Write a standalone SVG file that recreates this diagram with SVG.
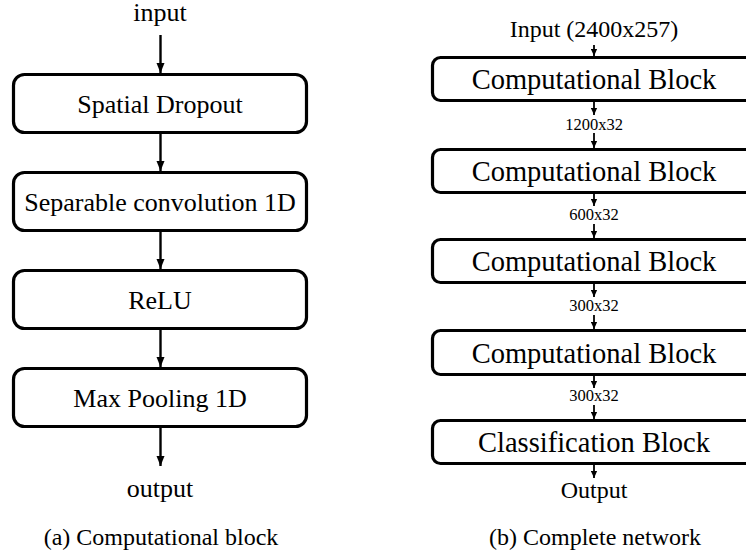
<svg xmlns="http://www.w3.org/2000/svg" width="746" height="559" viewBox="0 0 746 559">
<defs>
<style>
.box{fill:#fff;stroke:#000;stroke-width:3.2}
.t{font-family:"Liberation Serif","Times New Roman",serif;fill:#000;text-anchor:middle}
.l{font-size:26px}
.r{font-size:28.5px}
.s{font-size:16.5px}
.m{font-size:24px}
.a{stroke:#000;stroke-width:2.4;fill:none}
.as{stroke:#000;stroke-width:1.8;fill:none}
</style>
<marker id="ah" markerUnits="userSpaceOnUse" markerWidth="10" markerHeight="10" viewBox="0 0 10 10" refX="10" refY="5" orient="auto">
<path d="M0,1 L10,5 L0,9 z" fill="#000"/>
</marker>
<marker id="ahs" markerUnits="userSpaceOnUse" markerWidth="7" markerHeight="7" viewBox="0 0 10 10" refX="10" refY="5" orient="auto">
<path d="M0,0.5 L10,5 L0,9.5 z" fill="#000"/>
</marker>
</defs>
<rect width="746" height="559" fill="#fff"/>

<g id="connectors">
<line class="a" x1="160.5" y1="35" x2="160.5" y2="73" marker-end="url(#ah)"/>
<line class="a" x1="160.5" y1="133" x2="160.5" y2="171" marker-end="url(#ah)"/>
<line class="a" x1="160.5" y1="231" x2="160.5" y2="269" marker-end="url(#ah)"/>
<line class="a" x1="160.5" y1="329" x2="160.5" y2="367" marker-end="url(#ah)"/>
<line class="a" x1="160.5" y1="427" x2="160.5" y2="466" marker-end="url(#ah)"/>

<line class="as" x1="594" y1="45" x2="594" y2="56" marker-end="url(#ahs)"/>
<line class="as" x1="594" y1="102" x2="594" y2="115" marker-end="url(#ahs)"/>
<line class="as" x1="594" y1="133" x2="594" y2="148" marker-end="url(#ahs)"/>
<line class="as" x1="594" y1="194" x2="594" y2="206" marker-end="url(#ahs)"/>
<line class="as" x1="594" y1="224" x2="594" y2="238" marker-end="url(#ahs)"/>
<line class="as" x1="594" y1="284" x2="594" y2="297" marker-end="url(#ahs)"/>
<line class="as" x1="594" y1="315" x2="594" y2="329" marker-end="url(#ahs)"/>
<line class="as" x1="594" y1="376" x2="594" y2="388" marker-end="url(#ahs)"/>
<line class="as" x1="594" y1="405" x2="594" y2="419" marker-end="url(#ahs)"/>
<line class="as" x1="594" y1="465" x2="594" y2="478" marker-end="url(#ahs)"/>
</g>

<text class="t l" x="160" y="21">input</text>
<g id="spatial-dropout"><rect class="box" x="13.5" y="74.5" width="293" height="58" rx="11"/><text class="t l" x="160" y="112.5">Spatial Dropout</text></g>
<g id="sepconv"><rect class="box" x="13.5" y="172.5" width="293" height="58" rx="11"/><text class="t l" x="160" y="210.5">Separable convolution 1D</text></g>
<g id="relu"><rect class="box" x="13.5" y="270.5" width="293" height="58" rx="11"/><text class="t l" x="160" y="308.5">ReLU</text></g>
<g id="maxpool"><rect class="box" x="13.5" y="368.5" width="293" height="58" rx="11"/><text class="t l" x="160" y="406.5">Max Pooling 1D</text></g>
<text class="t l" x="160" y="497">output</text>
<text class="t m" x="161" y="545">(a) Computational block</text>

<text class="t m" x="594" y="37">Input (2400x257)</text>
<g id="cb1"><rect class="box" x="432.5" y="57.5" width="324" height="43" rx="8"/><text class="t r" x="594" y="89">Computational Block</text></g>
<text class="t s" x="594" y="130">1200x32</text>
<g id="cb2"><rect class="box" x="432.5" y="149.5" width="324" height="43" rx="8"/><text class="t r" x="594" y="181">Computational Block</text></g>
<text class="t s" x="594" y="220">600x32</text>
<g id="cb3"><rect class="box" x="432.5" y="239.5" width="324" height="43" rx="8"/><text class="t r" x="594" y="271">Computational Block</text></g>
<text class="t s" x="594" y="311">300x32</text>
<g id="cb4"><rect class="box" x="432.5" y="330.5" width="324" height="44" rx="8"/><text class="t r" x="594" y="362.5">Computational Block</text></g>
<text class="t s" x="594" y="401">300x32</text>
<g id="classif"><rect class="box" x="432.5" y="420.5" width="324" height="43" rx="8"/><text class="t r" x="594" y="452">Classification Block</text></g>
<text class="t m" x="594" y="498">Output</text>
<text class="t m" x="595" y="545">(b) Complete network</text>
</svg>
